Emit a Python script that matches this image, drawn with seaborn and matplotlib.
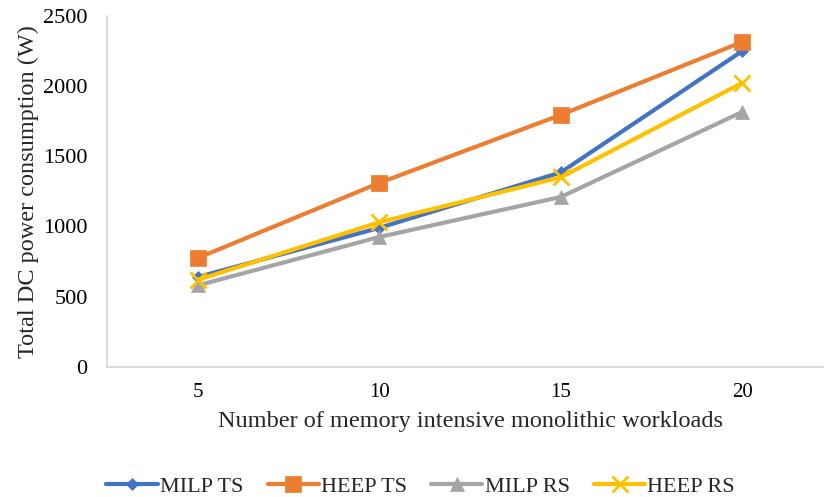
import matplotlib
matplotlib.use("Agg")
import matplotlib.pyplot as plt
import seaborn as sns
import pandas as pd
import numpy as np

# Workload counts on the x axis and power per scheme (W)
workloads = ["5", "10", "15", "20"]
milp_ts = [640, 990, 1385, 2250]
heep_ts = [775, 1310, 1795, 2315]
milp_rs = [580, 925, 1210, 1816]
heep_rs = [620, 1030, 1350, 2023]

series_names = ["MILP TS", "HEEP TS", "MILP RS", "HEEP RS"]
series_values = [milp_ts, heep_ts, milp_rs, heep_rs]
colors = ["#4472C4", "#ED7D31", "#A5A5A5", "#FFC000"]
markers = ["D", "s", "^", "x"]
marker_sizes = [6, 11, 10, 11]

rows = []
for name, vals in zip(series_names, series_values):
    for i, v in enumerate(vals):
        rows.append({"pos": i, "power": v, "scheme": name})
df = pd.DataFrame(rows)

sns.set_theme(style="white")
plt.rcParams["font.family"] = ["Liberation Serif", "DejaVu Serif"]

fig = plt.figure(figsize=(8.24, 4.97), dpi=100)
ax = fig.add_axes([0.130, 0.262, 0.881, 0.706])

for name, col, mk, ms in zip(series_names, colors, markers, marker_sizes):
    sub = df[df["scheme"] == name]
    sns.lineplot(data=sub, x="pos", y="power", ax=ax, color=col, linewidth=3,
                 marker=mk, markersize=ms, markeredgecolor=col,
                 markeredgewidth=2 if mk == "x" else 0.5, label=name)

ax.set_xlim(-0.5, 3.5)
ax.set_ylim(0, 2500)
ax.set_yticks(np.arange(0, 2501, 500))
ax.set_xticks(range(len(workloads)))
ax.set_xticklabels(workloads)
ax.set_xticks(np.arange(-0.5, 3.6, 1.0), minor=True)
ax.tick_params(axis="x", which="major", length=0, labelsize=15, pad=12, colors="#000000")
ax.tick_params(axis="x", which="minor", length=5, width=1.2, color="#D9D9D9", direction="out")
ax.tick_params(axis="y", length=0, labelsize=16, pad=14, colors="#000000")

for side in ["top", "right"]:
    ax.spines[side].set_visible(False)
for side in ["left", "bottom"]:
    ax.spines[side].set_color("#D9D9D9")
    ax.spines[side].set_linewidth(1.3)

ax.set_xlabel("Number of memory intensive monolithic workloads", fontsize=17.5, labelpad=6)
ax.set_ylabel("Total DC power consumption (W)", fontsize=17.5, labelpad=3)

leg = ax.legend(loc="center", bbox_to_anchor=(0.432, -0.342), ncol=4, frameon=False,
                fontsize=16, handlelength=2.3, columnspacing=1.1, handletextpad=0.1,
                borderpad=0, borderaxespad=0)

fig.savefig("out.png", dpi=100)
